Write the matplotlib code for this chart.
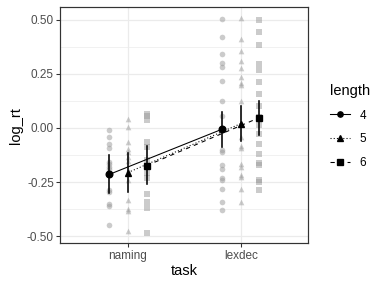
import matplotlib
matplotlib.use("Agg")
import matplotlib.pyplot as plt
import numpy as np
from matplotlib.lines import Line2D

plt.rcParams["font.family"] = ["Liberation Sans", "DejaVu Sans"]

tasks = ["naming", "lexdec"]
lengths = ["4", "5", "6"]

# raw log_rt values
naming_4 = [-0.011, -0.043, -0.075, -0.094, -0.158, -0.168, -0.182, -0.191, -0.214,
            -0.288, -0.295, -0.353, -0.362, -0.450]
naming_5 = [0.040, 0.003, -0.066, -0.099, -0.113, -0.135, -0.154, -0.195, -0.240,
            -0.334, -0.376, -0.384, -0.477]
naming_6 = [0.066, 0.054, 0.036, -0.065, -0.088, -0.150, -0.175, -0.210, -0.232,
            -0.306, -0.341, -0.372, -0.484]
lexdec_4 = [0.505, 0.420, 0.343, 0.300, 0.281, 0.215, 0.124, 0.054, -0.006, -0.103,
            -0.111, -0.172, -0.188, -0.233, -0.240, -0.284, -0.341, -0.380]
lexdec_5 = [0.509, 0.412, 0.358, 0.312, 0.277, 0.238, 0.208, 0.200, 0.124, 0.020,
            -0.042, -0.085, -0.093, -0.165, -0.180, -0.218, -0.226, -0.284, -0.341]
lexdec_6 = [0.500, 0.443, 0.382, 0.297, 0.266, 0.212, 0.158, 0.100, 0.052, 0.012,
            -0.029, -0.072, -0.122, -0.162, -0.172, -0.241, -0.249, -0.288]

# condition means and interval ends (order: length 4, 5, 6)
mean_naming = [-0.215, -0.206, -0.174]
lo_naming = [-0.300, -0.295, -0.261]
hi_naming = [-0.126, -0.115, -0.084]
mean_lexdec = [-0.006, 0.020, 0.048]
lo_lexdec = [-0.088, -0.061, -0.034]
hi_lexdec = [0.072, 0.100, 0.125]

raw = {
    ("naming", "4"): naming_4, ("naming", "5"): naming_5, ("naming", "6"): naming_6,
    ("lexdec", "4"): lexdec_4, ("lexdec", "5"): lexdec_5, ("lexdec", "6"): lexdec_6,
}
means = {"naming": mean_naming, "lexdec": mean_lexdec}
lows = {"naming": lo_naming, "lexdec": lo_lexdec}
highs = {"naming": hi_naming, "lexdec": hi_lexdec}

markers = ["o", "^", "s"]
linestyles = ["-", (0, (1, 2)), (0, (4, 4))]
dodge = 0.5

fig = plt.figure(figsize=(4, 3), dpi=96)
ax = fig.add_axes([0.157, 0.155, 0.646, 0.820])

for i, length in enumerate(lengths):
    offset = (i - 1) * dodge / len(lengths)
    xs_line, ys_line = [], []
    for j, task in enumerate(tasks):
        x = j + 1 + offset
        vals = raw[(task, length)]
        ax.scatter(np.full(len(vals), x), vals, marker=markers[i], s=18,
                   color="#999999", alpha=0.5, linewidths=0, zorder=2)
        m = means[task][i]
        ax.plot([x, x], [lows[task][i], highs[task][i]], color="black", lw=1.2, zorder=4)
        ax.plot([x], [m], marker=markers[i], color="black", ms=5, zorder=5)
        xs_line.append(x)
        ys_line.append(m)
    ax.plot(xs_line, ys_line, color="black", lw=0.8, linestyle=linestyles[i], zorder=3)

allvals = np.concatenate([np.asarray(v) for v in raw.values()])
lo, hi = allvals.min(), allvals.max()
pad = 0.05 * (hi - lo)
ax.set_ylim(lo - pad, hi + pad)
ax.set_xlim(0.4, 2.6)
ax.set_xticks([1, 2])
ax.set_xticklabels(tasks)
ax.set_yticks([-0.5, -0.25, 0, 0.25, 0.5])
ax.set_yticklabels(["-0.50", "-0.25", "0.00", "0.25", "0.50"])
ax.set_yticks([-0.375, -0.125, 0.125, 0.375], minor=True)

ax.set_axisbelow(True)
ax.grid(True, which="major", color="#EBEBEB", lw=0.9)
ax.grid(True, which="minor", axis="y", color="#EBEBEB", lw=0.5)
for sp in ax.spines.values():
    sp.set_color("#333333")
    sp.set_linewidth(0.9)
ax.tick_params(axis="both", which="major", length=2.75, color="#333333",
               labelcolor="#4D4D4D", labelsize=8.8, width=0.8, pad=2)
ax.tick_params(axis="both", which="minor", length=0)

ax.set_xlabel("task", fontsize=11, labelpad=2)
ax.set_ylabel("log_rt", fontsize=11, labelpad=3)

handles = [Line2D([0], [0], color="black", lw=0.8, linestyle=linestyles[i],
                  marker=markers[i], ms=4) for i in range(len(lengths))]
leg = ax.legend(handles, lengths, title="length", loc="center left",
                bbox_to_anchor=(1.07, 0.495), frameon=False, fontsize=8.8,
                title_fontsize=11, handlelength=1.7, labelspacing=1.0,
                handletextpad=0.8, borderaxespad=0)
leg._legend_box.align = "left"

fig.savefig("out.png", dpi=96)
